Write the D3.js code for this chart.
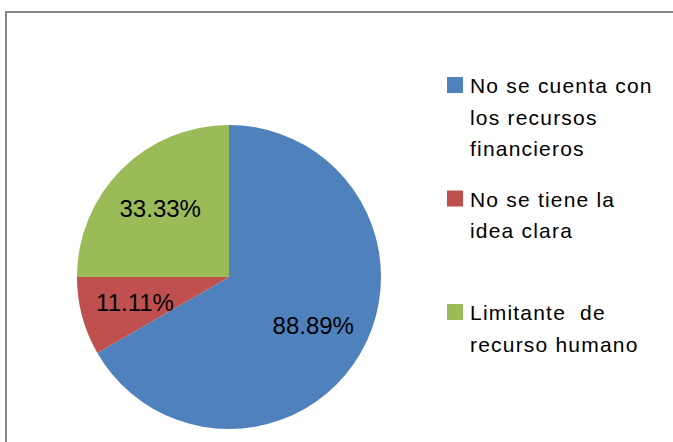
<!DOCTYPE html>
<html>
<head>
<meta charset="utf-8">
<script src="https://cdn.jsdelivr.net/npm/d3@7"></script>
<style>
  body { margin: 0; background: #fff; }
  svg text { font-family: "Liberation Sans", Arial, sans-serif; fill: #000; white-space: pre; }
</style>
</head>
<body>
<svg id="chart" width="673" height="442"></svg>
<script>
'use strict';

// data
var categories = ['No se cuenta con los recursos financieros', 'No se tiene la idea clara', 'Limitante  de recurso humano'];
var legendLines = [
  ['No se cuenta con', 'los recursos', 'financieros'],
  ['No se tiene la', 'idea clara'],
  ['Limitante  de', 'recurso humano']
];
var values = [88.89, 11.11, 33.33];
var valueLabels = ['88.89%', '11.11%', '33.33%'];
var colors = ['#4F81BD', '#C0504D', '#9BBB59'];

var width = 673, height = 442;
var cx = 229, cy = 277, radius = 152;

var svg = d3.select('#chart');

// outer frame (runs off the right and bottom edges)
svg.append('rect')
  .attr('x', 6).attr('y', 12)
  .attr('width', width + 20).attr('height', height + 20)
  .attr('fill', 'none')
  .attr('stroke', '#888')
  .attr('stroke-width', 2);

var pie = d3.pie().sort(null).value(function (d) { return d; });
var arcs = pie(values);

var arc = d3.arc().innerRadius(0).outerRadius(radius);
var labelArc = d3.arc().innerRadius(radius * 0.64).outerRadius(radius * 0.64);

var g = svg.append('g').attr('transform', 'translate(' + cx + ',' + cy + ')');

g.selectAll('path')
  .data(arcs)
  .enter()
  .append('path')
  .attr('d', arc)
  .attr('fill', function (d, i) { return colors[i]; });

g.selectAll('text')
  .data(arcs)
  .enter()
  .append('text')
  .attr('transform', function (d) { return 'translate(' + labelArc.centroid(d) + ')'; })
  .attr('text-anchor', 'middle')
  .attr('dy', '0.35em')
  .style('font-size', '24px')
  .text(function (d, i) { return valueLabels[i]; });

// legend
var legend = svg.append('g').attr('transform', 'translate(447,77)');
var item = legend.selectAll('g')
  .data(categories)
  .enter()
  .append('g')
  .attr('transform', function (d, i) { return 'translate(0,' + (i * 113.5) + ')'; });

item.append('rect')
  .attr('width', 16).attr('height', 16)
  .attr('fill', function (d, i) { return colors[i]; });

item.append('text')
  .attr('x', 23)
  .attr('y', 16)
  .style('font-size', '21px')
  .style('letter-spacing', '1.2px')
  .selectAll('tspan')
  .data(function (d, i) { return legendLines[i]; })
  .enter()
  .append('tspan')
  .attr('x', 23)
  .attr('dy', function (d, j) { return j === 0 ? 0 : 31.5; })
  .text(function (d) { return d; });
</script>
</body>
</html>
